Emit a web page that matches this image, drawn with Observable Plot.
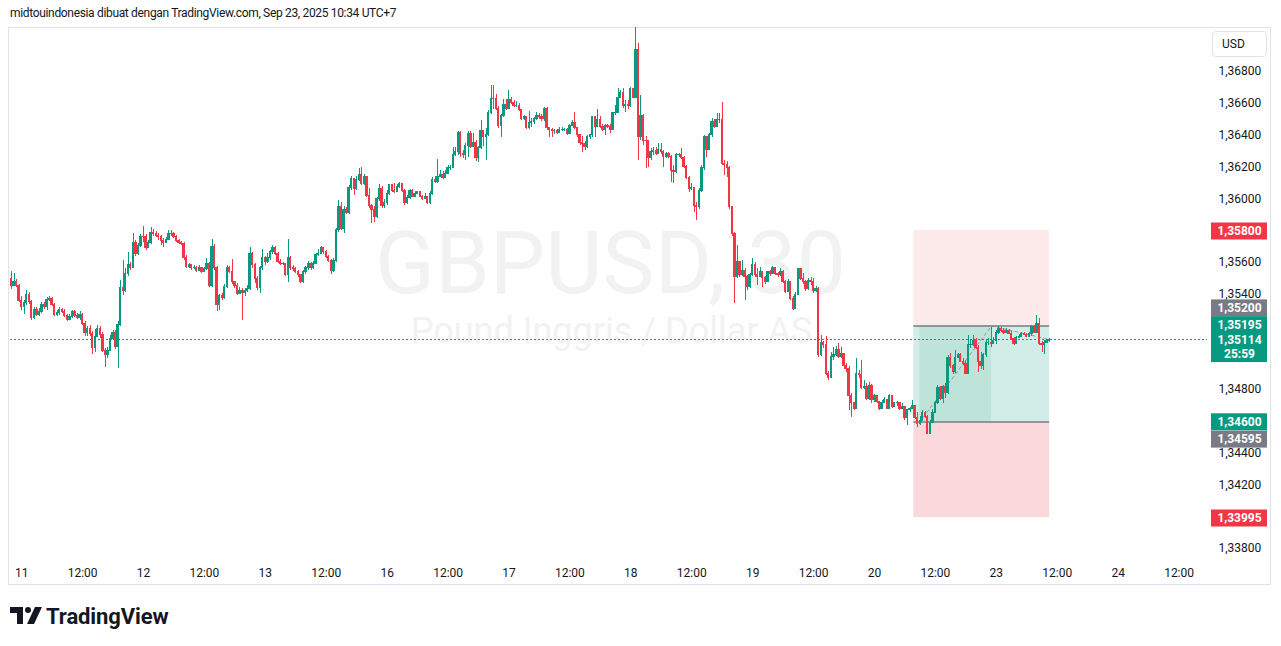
<!DOCTYPE html>
<html><head><meta charset="utf-8">
<script src="https://cdn.jsdelivr.net/npm/d3@7"></script>
<script src="https://cdn.jsdelivr.net/npm/@observablehq/plot@0.6"></script>
<style>
html,body{margin:0;padding:0;background:#fff;}
#wrap{position:relative;width:1281px;height:646px;overflow:hidden;font-family:Roboto,sans-serif;color:#131722;}
#hdr{position:absolute;left:10px;top:6px;font-size:12px;letter-spacing:-0.33px;color:#131722;white-space:nowrap;}
#frame{position:absolute;left:8px;top:27px;width:1263px;height:558px;border:1px solid #e0e3eb;box-sizing:border-box;}
#chart{position:absolute;left:0;top:0;}
#usd{position:absolute;left:1212px;top:31px;width:55px;height:26px;border:1px solid #e0e3eb;border-radius:4px;box-sizing:border-box;font-size:12px;line-height:24px;padding-left:9px;}
#foot{position:absolute;left:10px;top:603px;height:26px;display:flex;align-items:center;}
#foot span{font-weight:700;font-size:22px;margin-left:4px;color:#131722;letter-spacing:-0.1px;}
.crisp rect,.crisp line{shape-rendering:crispEdges;}
</style></head>
<body><div id="wrap">
<div id="hdr">midtouindonesia dibuat dengan TradingView.com, Sep 23, 2025 10:34 UTC+7</div>
<div id="frame"></div>
<div id="chart"></div>
<div id="usd">USD</div>
<div id="foot"><svg width="32" height="20" viewBox="0 0 32 20"><path d="M0 1h13v17H7V7H0z" fill="#131722"/><circle cx="18" cy="4" r="3" fill="#131722"/><path d="M25 1h7l-8 17h-7z" fill="#131722"/></svg><span>TradingView</span></div>
</div>
<script>
// ---- data: GBPUSD 30-minute candles (bar index 0 .. 409) ----
const open0 = 1.35498;
const close = [
1.35454,1.35473,1.35454,1.35359,1.35322,1.35341,1.35397,1.35353,1.35252,1.35303,
1.35271,1.35290,1.35334,1.35322,1.35366,1.35372,1.35334,1.35271,1.35278,1.35303,
1.35290,1.35265,1.35240,1.35259,1.35290,1.35265,1.35252,1.35271,1.35215,1.35158,
1.35183,1.35152,1.35058,1.35133,1.35183,1.35145,1.35045,1.35014,1.35045,1.35120,
1.35158,1.35070,1.35208,1.35441,1.35422,1.35529,1.35586,1.35567,1.35724,1.35655,
1.35705,1.35762,1.35756,1.35693,1.35724,1.35787,1.35781,1.35768,1.35756,1.35737,
1.35724,1.35743,1.35781,1.35775,1.35762,1.35737,1.35724,1.35718,1.35630,1.35573,
1.35580,1.35561,1.35567,1.35548,1.35561,1.35542,1.35555,1.35592,1.35454,1.35699,
1.35561,1.35334,1.35385,1.35378,1.35447,1.35561,1.35542,1.35473,1.35454,1.35403,
1.35422,1.35410,1.35422,1.35429,1.35655,1.35580,1.35498,1.35441,1.35561,1.35624,
1.35599,1.35624,1.35662,1.35693,1.35655,1.35605,1.35592,1.35592,1.35523,1.35624,
1.35567,1.35555,1.35542,1.35517,1.35479,1.35536,1.35561,1.35592,1.35561,1.35592,
1.35643,1.35655,1.35687,1.35662,1.35636,1.35611,1.35548,1.35611,1.35800,1.35945,
1.35812,1.35932,1.35913,1.36070,1.36127,1.36064,1.36120,1.36146,1.36095,1.36139,
1.36020,1.35957,1.35932,1.35888,1.35995,1.36064,1.35951,1.35970,1.36032,1.36083,
1.36051,1.36045,1.36076,1.36095,1.36051,1.35970,1.36007,1.36051,1.36013,1.36032,
1.36039,1.36013,1.36001,1.36013,1.35970,1.36032,1.36120,1.36108,1.36139,1.36146,
1.36133,1.36158,1.36190,1.36196,1.36272,1.36291,1.36416,1.36278,1.36272,1.36334,
1.36410,1.36328,1.36353,1.36259,1.36316,1.36423,1.36385,1.36398,1.36536,1.36630,
1.36624,1.36567,1.36460,1.36523,1.36592,1.36567,1.36618,1.36605,1.36580,1.36586,
1.36555,1.36504,1.36511,1.36442,1.36479,1.36485,1.36504,1.36517,1.36511,1.36504,
1.36567,1.36442,1.36429,1.36423,1.36423,1.36416,1.36429,1.36435,1.36435,1.36410,
1.36460,1.36479,1.36442,1.36398,1.36353,1.36347,1.36322,1.36391,1.36398,1.36511,
1.36454,1.36492,1.36454,1.36435,1.36460,1.36454,1.36435,1.36536,1.36542,1.36636,
1.36662,1.36580,1.36592,1.36580,1.36687,1.36636,1.36938,1.36385,1.36523,1.36366,
1.36360,1.36259,1.36291,1.36303,1.36284,1.36309,1.36291,1.36265,1.36284,1.36265,
1.36177,1.36171,1.36272,1.36272,1.36259,1.36202,1.36133,1.36058,1.36070,1.35957,
1.35945,1.36051,1.36190,1.36385,1.36309,1.36398,1.36485,1.36454,1.36492,1.36492,
1.36221,1.36209,1.36196,1.35945,1.35781,1.35510,1.35599,1.35523,1.35548,1.35510,
1.35447,1.35517,1.35586,1.35517,1.35510,1.35536,1.35504,1.35479,1.35536,1.35529,
1.35561,1.35529,1.35517,1.35536,1.35479,1.35416,1.35479,1.35372,1.35309,1.35397,
1.35555,1.35498,1.35473,1.35435,1.35485,1.35479,1.35422,1.35429,1.35014,1.35095,
1.35077,1.34900,1.34875,1.35007,1.35014,1.35051,1.35007,1.35026,1.34945,1.34932,
1.34762,1.34712,1.34680,1.34900,1.34894,1.34812,1.34818,1.34743,1.34825,1.34731,
1.34756,1.34724,1.34680,1.34718,1.34731,1.34680,1.34762,1.34687,1.34712,1.34712,
1.34680,1.34687,1.34618,1.34668,1.34680,1.34699,1.34618,1.34586,1.34605,1.34655,
1.34630,1.34523,1.34592,1.34655,1.34712,1.34812,1.34743,1.34818,1.34775,1.35001,
1.34945,1.34907,1.35001,1.35014,1.34976,1.34963,1.34900,1.35077,1.35083,1.35108,
1.35064,1.34970,1.34945,1.35014,1.35095,1.35095,1.35089,1.35108,1.35158,1.35183,
1.35171,1.35158,1.35171,1.35152,1.35120,1.35089,1.35127,1.35133,1.35152,1.35145,
1.35133,1.35152,1.35196,1.35158,1.35215,1.35089,1.35077,1.35095,1.35102,1.35114
];
const high = [
1.35542,1.35529,1.35492,1.35460,1.35385,1.35359,1.35422,1.35410,1.35359,1.35315,
1.35315,1.35309,1.35347,1.35347,1.35378,1.35385,1.35378,1.35341,1.35297,1.35315,
1.35309,1.35303,1.35271,1.35271,1.35297,1.35297,1.35278,1.35290,1.35278,1.35227,
1.35196,1.35202,1.35164,1.35177,1.35202,1.35196,1.35158,1.35058,1.35064,1.35139,
1.35171,1.35171,1.35227,1.35485,1.35611,1.35561,1.35662,1.35599,1.35781,1.35737,
1.35718,1.35775,1.35825,1.35775,1.35737,1.35819,1.35806,1.35794,1.35781,1.35768,
1.35750,1.35756,1.35800,1.35800,1.35787,1.35768,1.35743,1.35731,1.35724,1.35643,
1.35592,1.35586,1.35580,1.35573,1.35580,1.35567,1.35567,1.35624,1.35599,1.35743,
1.35712,1.35573,1.35397,1.35403,1.35460,1.35580,1.35573,1.35617,1.35479,1.35466,
1.35441,1.35435,1.35435,1.35454,1.35693,1.35662,1.35592,1.35510,1.35573,1.35680,
1.35636,1.35655,1.35674,1.35705,1.35699,1.35662,1.35617,1.35599,1.35580,1.35743,
1.35636,1.35580,1.35567,1.35548,1.35523,1.35548,1.35573,1.35605,1.35599,1.35605,
1.35655,1.35680,1.35699,1.35693,1.35674,1.35643,1.35617,1.35624,1.35812,1.35989,
1.35976,1.35951,1.35945,1.36083,1.36139,1.36127,1.36139,1.36190,1.36196,1.36152,
1.36139,1.36064,1.35963,1.35951,1.36007,1.36089,1.36076,1.35995,1.36051,1.36089,
1.36089,1.36095,1.36089,1.36102,1.36095,1.36058,1.36020,1.36058,1.36058,1.36045,
1.36045,1.36045,1.36020,1.36032,1.36013,1.36045,1.36133,1.36139,1.36246,1.36177,
1.36171,1.36177,1.36209,1.36209,1.36322,1.36322,1.36423,1.36423,1.36303,1.36347,
1.36423,1.36423,1.36410,1.36366,1.36328,1.36492,1.36429,1.36442,1.36555,1.36712,
1.36712,1.36655,1.36580,1.36529,1.36624,1.36624,1.36680,1.36636,1.36618,1.36611,
1.36599,1.36561,1.36523,1.36517,1.36548,1.36504,1.36511,1.36542,1.36536,1.36529,
1.36573,1.36573,1.36448,1.36442,1.36435,1.36435,1.36448,1.36448,1.36442,1.36442,
1.36467,1.36492,1.36542,1.36442,1.36404,1.36391,1.36360,1.36398,1.36404,1.36517,
1.36517,1.36561,1.36517,1.36467,1.36467,1.36467,1.36467,1.36542,1.36586,1.36693,
1.36680,1.36693,1.36618,1.36618,1.36700,1.36687,1.37077,1.36976,1.36649,1.36529,
1.36391,1.36366,1.36316,1.36322,1.36322,1.36347,1.36347,1.36303,1.36291,1.36291,
1.36272,1.36209,1.36284,1.36284,1.36316,1.36265,1.36209,1.36139,1.36095,1.36070,
1.35976,1.36064,1.36209,1.36398,1.36391,1.36410,1.36504,1.36498,1.36536,1.36536,
1.36605,1.36240,1.36234,1.36202,1.35951,1.35787,1.35705,1.35599,1.35611,1.35561,
1.35517,1.35529,1.35624,1.35599,1.35561,1.35567,1.35542,1.35510,1.35542,1.35548,
1.35573,1.35561,1.35536,1.35561,1.35548,1.35485,1.35492,1.35479,1.35385,1.35410,
1.35561,1.35561,1.35529,1.35485,1.35498,1.35504,1.35498,1.35447,1.35441,1.35139,
1.35102,1.35133,1.34913,1.35033,1.35064,1.35070,1.35089,1.35064,1.35014,1.34963,
1.34945,1.34775,1.34718,1.34995,1.34919,1.34982,1.34856,1.34837,1.34844,1.34831,
1.34768,1.34756,1.34724,1.34731,1.34750,1.34737,1.34768,1.34762,1.34718,1.34724,
1.34718,1.34712,1.34687,1.34674,1.34687,1.34731,1.34699,1.34655,1.34630,1.34668,
1.34662,1.34636,1.34605,1.34674,1.34724,1.34825,1.34818,1.34825,1.34837,1.35014,
1.35026,1.34957,1.35045,1.35026,1.35026,1.34995,1.34982,1.35139,1.35108,1.35139,
1.35120,1.35077,1.35033,1.35026,1.35108,1.35120,1.35189,1.35127,1.35171,1.35196,
1.35189,1.35183,1.35183,1.35177,1.35164,1.35127,1.35133,1.35145,1.35158,1.35158,
1.35152,1.35158,1.35202,1.35202,1.35265,1.35246,1.35102,1.35108,1.35114,1.35120
];
const low = [
1.35429,1.35447,1.35441,1.35347,1.35297,1.35271,1.35328,1.35334,1.35233,1.35240,
1.35259,1.35259,1.35278,1.35303,1.35297,1.35353,1.35322,1.35259,1.35259,1.35265,
1.35278,1.35252,1.35227,1.35233,1.35246,1.35252,1.35240,1.35233,1.35202,1.35133,
1.35133,1.35133,1.35020,1.35033,1.35127,1.35120,1.35033,1.34938,1.34995,1.35039,
1.35108,1.35051,1.34932,1.35196,1.35391,1.35410,1.35510,1.35548,1.35561,1.35636,
1.35643,1.35693,1.35724,1.35674,1.35687,1.35712,1.35762,1.35756,1.35737,1.35705,
1.35693,1.35718,1.35737,1.35762,1.35750,1.35724,1.35712,1.35705,1.35611,1.35561,
1.35561,1.35548,1.35555,1.35536,1.35542,1.35529,1.35536,1.35548,1.35441,1.35441,
1.35548,1.35290,1.35297,1.35359,1.35366,1.35435,1.35529,1.35460,1.35435,1.35391,
1.35397,1.35233,1.35385,1.35410,1.35422,1.35561,1.35466,1.35422,1.35403,1.35548,
1.35580,1.35592,1.35611,1.35649,1.35643,1.35592,1.35580,1.35580,1.35510,1.35473,
1.35548,1.35542,1.35529,1.35504,1.35466,1.35466,1.35523,1.35548,1.35548,1.35555,
1.35586,1.35636,1.35649,1.35649,1.35624,1.35599,1.35523,1.35536,1.35599,1.35787,
1.35800,1.35781,1.35900,1.35900,1.36051,1.36020,1.36051,1.36108,1.36083,1.36083,
1.36007,1.35938,1.35844,1.35850,1.35875,1.35982,1.35938,1.35938,1.35957,1.36020,
1.36039,1.36032,1.36039,1.36064,1.36039,1.35957,1.35963,1.35995,1.36007,1.36007,
1.36026,1.36007,1.35989,1.35995,1.35963,1.35963,1.36020,1.36095,1.36095,1.36133,
1.36120,1.36127,1.36152,1.36177,1.36190,1.36265,1.36272,1.36259,1.36253,1.36240,
1.36259,1.36316,1.36322,1.36234,1.36228,1.36309,1.36328,1.36240,1.36391,1.36529,
1.36561,1.36555,1.36442,1.36385,1.36511,1.36555,1.36561,1.36592,1.36573,1.36573,
1.36548,1.36492,1.36492,1.36435,1.36435,1.36448,1.36467,1.36492,1.36498,1.36485,
1.36485,1.36429,1.36385,1.36385,1.36404,1.36404,1.36416,1.36423,1.36423,1.36398,
1.36404,1.36454,1.36435,1.36385,1.36334,1.36291,1.36303,1.36316,1.36372,1.36385,
1.36385,1.36448,1.36442,1.36423,1.36398,1.36442,1.36410,1.36429,1.36523,1.36536,
1.36630,1.36567,1.36542,1.36561,1.36573,1.36630,1.36636,1.36240,1.36366,1.36334,
1.36190,1.36196,1.36240,1.36272,1.36272,1.36278,1.36278,1.36196,1.36253,1.36253,
1.36102,1.36095,1.36158,1.36259,1.36246,1.36190,1.36120,1.36039,1.36051,1.35913,
1.35863,1.35932,1.36039,1.36177,1.36259,1.36303,1.36385,1.36442,1.36448,1.36473,
1.36209,1.36146,1.36133,1.35932,1.35762,1.35341,1.35498,1.35504,1.35510,1.35359,
1.35422,1.35435,1.35510,1.35504,1.35454,1.35504,1.35441,1.35460,1.35473,1.35510,
1.35523,1.35517,1.35504,1.35510,1.35466,1.35403,1.35410,1.35359,1.35297,1.35309,
1.35397,1.35485,1.35460,1.35416,1.35422,1.35454,1.35403,1.35410,1.35001,1.35007,
1.35058,1.34888,1.34856,1.34869,1.34982,1.35007,1.34995,1.34995,1.34926,1.34907,
1.34668,1.34624,1.34668,1.34674,1.34869,1.34800,1.34800,1.34731,1.34731,1.34712,
1.34718,1.34712,1.34668,1.34674,1.34712,1.34674,1.34674,1.34680,1.34687,1.34693,
1.34668,1.34674,1.34605,1.34574,1.34655,1.34674,1.34611,1.34561,1.34574,1.34605,
1.34618,1.34517,1.34517,1.34586,1.34649,1.34706,1.34731,1.34712,1.34743,1.34768,
1.34932,1.34894,1.34900,1.34995,1.34970,1.34951,1.34894,1.34894,1.35058,1.35070,
1.35051,1.34907,1.34926,1.34919,1.35001,1.35077,1.35064,1.35083,1.35083,1.35145,
1.35158,1.35145,1.35152,1.35145,1.35108,1.35077,1.35083,1.35120,1.35127,1.35139,
1.35127,1.35133,1.35133,1.35152,1.35158,1.35077,1.35033,1.35020,1.35089,1.35095
];
const currentPrice = 1.35114;
const countdown = "25:59";

// time axis (bar index of each label) and its text
const timeTickBars = [4,28,52,76,100,124,148,172,196,220,244,268,292,316,340,364,388,412,436,460];
const timeTickText = ["11","12:00","12","12:00","13","12:00","16","12:00","17","12:00","18","12:00","19","12:00","20","12:00","23","12:00","24","12:00"];
const priceTicks = [1.368,1.366,1.364,1.362,1.360,1.356,1.354,1.348,1.344,1.342,1.338];

// position tools (long + short) drawn on the chart
const longPos = {entry: 1.34595, target: 1.35195, stop: 1.33995};
const shortPos = {entry: 1.35200, target: 1.34600, stop: 1.35800};
const posBars = [355.5, 409];          // start / end bar of both boxes
const longFilledBars = [357.8, 386.1];  // entry filled -> target hit
const pathBars = [357.8, 386.1, 409];
const pathPrices = [1.34595, 1.35200, 1.35114];

// ---- layout / styles ----
const green = "#089981", red = "#f23645", gray = "#787b86";
const W = 1281, H = 646, mL = 10, mR = 74, mT = 27, mB = 89;
const xDom = [-0.4, 471.2];
const yDom = [1.337434, 1.370767];
const pxToBar = px => xDom[0] + (px - mL) / (W - mR - mL) * (xDom[1] - xDom[0]);

const bars = close.map((c, i) => {
  const o = i === 0 ? open0 : close[i - 1];
  return {i, o, c, h: high[i], l: low[i], col: c >= o ? green : red};
});

const zones = [
  {x1: posBars[0], x2: posBars[1], y1: shortPos.entry, y2: shortPos.stop, fill: "#fdebec"},
  {x1: posBars[0], x2: posBars[1], y1: longPos.stop, y2: longPos.entry, fill: "#fbd8db"},
  {x1: posBars[0], x2: posBars[1], y1: longPos.entry, y2: shortPos.entry, fill: "#d2ede7"},
  {x1: longFilledBars[0], x2: longFilledBars[1], y1: longPos.entry, y2: shortPos.entry, fill: "#bee4da"}
];
const path = pathBars.map((b, k) => ({b, p: pathPrices[k]}));

// axis labels (price, text, colour, vertical nudge in px so they stack like TradingView)
const axisLabels = [
  {p: shortPos.stop, t: "1,35800", c: red, dy: 1},
  {p: shortPos.entry, t: "1,35200", c: gray, dy: -17.5},
  {p: longPos.target, t: "1,35195", c: green, dy: -1.5},
  {p: shortPos.target, t: "1,34600", c: green, dy: 1},
  {p: longPos.entry, t: "1,34595", c: gray, dy: 17.5},
  {p: longPos.stop, t: "1,33995", c: red, dy: 1}
];
const lx1 = pxToBar(1211), lx2 = pxToBar(1267), lxc = pxToBar(1239);
const labelMarks = [];
for (const L of axisLabels) {
  labelMarks.push(Plot.rect([L], {x1: lx1, x2: lx2, y1: "p", y2: "p", fill: L.c, insetTop: -8.5, insetBottom: -8.5, dy: L.dy}));
  labelMarks.push(Plot.text([L], {x: lxc, y: "p", text: "t", fill: "white", fontSize: 12, fontWeight: "bold", dy: L.dy}));
}
// current price label (two lines)
labelMarks.push(Plot.rect([currentPrice], {x1: lx1, x2: lx2, y1: d => d, y2: d => d, fill: green, insetTop: -8, insetBottom: -23}));
labelMarks.push(Plot.text([currentPrice], {x: lxc, y: d => d, text: d => d.toFixed(5).replace(".", ","), fill: "white", fontSize: 12, fontWeight: "bold", dy: 0.5}));
labelMarks.push(Plot.text([currentPrice], {x: lxc, y: d => d, text: () => countdown, fill: "white", fontSize: 12, fontWeight: "bold", dy: 14.5}));

const tickMap = new Map(timeTickBars.map((b, k) => [b, timeTickText[k]]));

const chart = Plot.plot({
  width: W, height: H,
  marginLeft: mL, marginRight: mR, marginTop: mT, marginBottom: mB,
  style: {fontFamily: "Roboto, sans-serif", fontSize: "12px", background: "transparent", overflow: "visible"},
  x: {domain: xDom, axis: null},
  y: {domain: yDom, axis: null},
  color: {type: "identity"},
  marks: [
    Plot.rect(zones, {x1: "x1", x2: "x2", y1: "y1", y2: "y2", fill: "fill"}),
    Plot.text(["GBPUSD, 30"], {frameAnchor: "top-left", dx: 600, dy: 237, textAnchor: "middle", lineAnchor: "middle", fontSize: 88, fill: "#f2f2f2", fontFamily: "Roboto"}),
    Plot.text(["Pound Inggris / Dollar AS"], {frameAnchor: "top-left", dx: 601, dy: 304, textAnchor: "middle", lineAnchor: "middle", fontSize: 36, fill: "#f2f2f2", fontFamily: "Roboto"}),
    Plot.ruleY([shortPos.entry, longPos.entry], {x1: posBars[0], x2: posBars[1], stroke: gray, strokeWidth: 1.5}),
    Plot.line(path, {x: "b", y: "p", stroke: gray, strokeWidth: 1, strokeDasharray: "3,3", strokeOpacity: 0.7}),
    Plot.ruleY([currentPrice], {stroke: green, strokeWidth: 1, strokeDasharray: "2,2", className: "crisp"}),
    Plot.ruleX(bars, {x: "i", y1: "l", y2: "h", stroke: "col", strokeWidth: 1, className: "crisp"}),
    Plot.rect(bars, {x1: d => d.i - 0.45, x2: d => d.i + 0.45, y1: "o", y2: "c", fill: "col", insetTop: -0.5, insetBottom: -0.5, className: "crisp"}),
    Plot.axisY(priceTicks, {anchor: "right", tickSize: 0, tickPadding: 11, tickFormat: d => d.toFixed(5).replace(".", ","), fontSize: 12, fill: "#131722", label: null}),
    Plot.axisX(timeTickBars, {anchor: "bottom", tickSize: 0, tickPadding: 11, tickFormat: d => tickMap.get(d), fontSize: 12, fill: "#131722", label: null}),
    ...labelMarks
  ]
});
document.getElementById("chart").appendChild(chart);
</script>
</body></html>
